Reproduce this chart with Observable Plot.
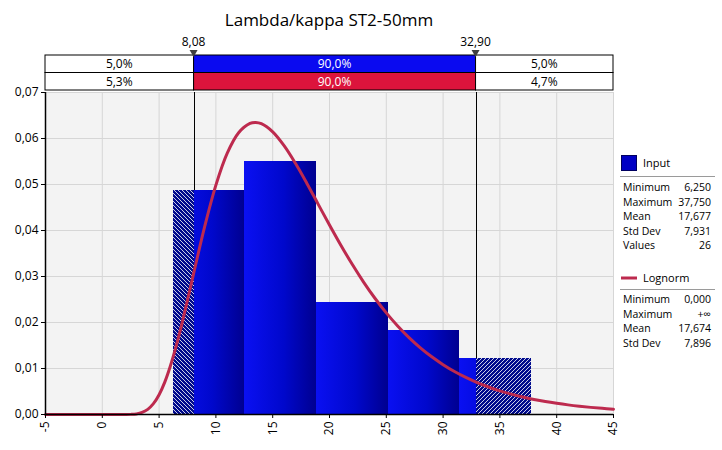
<!DOCTYPE html>
<html>
<head>
<meta charset="utf-8">
<script src="https://cdn.jsdelivr.net/npm/d3@7"></script>
<script src="https://cdn.jsdelivr.net/npm/@observablehq/plot@0.6"></script>
<style>
  html, body { margin: 0; padding: 0; background: #ffffff; }
  #chart svg { display: block; }
</style>
</head>
<body>
<div id="chart"></div>
<script>
// ---------- data ----------
const title = "Lambda/kappa ST2-50mm";
const xTicks = [-5, 0, 5, 10, 15, 20, 25, 30, 35, 40, 45];
const yTicks = [0, 0.01, 0.02, 0.03, 0.04, 0.05, 0.06, 0.07];
const binEdges = [6.25, 12.55, 18.85, 25.15, 31.45, 37.75];
const binDensity = [0.0488, 0.0549, 0.0244, 0.0183, 0.0122];
const thresholds = [8.08, 32.90];
const thresholdLabels = ["8,08", "32,90"];
const inputPct = ["5,0%", "90,0%", "5,0%"];
const fitPct = ["5,3%", "90,0%", "4,7%"];
const curveX = [-5, -4, -3, -2, -1, 0, 1, 2, 2.5, 3, 3.5, 4, 4.5, 5, 5.5, 6, 6.5, 7, 7.5, 8, 9, 10, 11, 12, 13, 13.5, 14, 15,
  16, 17, 18, 19, 20, 21, 22, 23, 24, 25, 26, 27, 28, 29, 30, 31, 32, 33, 34, 35,
  36, 37, 38, 39, 40, 41, 42, 43, 44, 45];
const curveY = [0, 0, 0, 0, 0, 0, 0, 0.000003, 0.000027, 0.00013, 0.00044, 0.00112, 0.00236, 0.00431, 0.00705, 0.0106, 0.01485, 0.01967, 0.02486, 0.03024, 0.04073, 0.04986, 0.05681, 0.06125, 0.06328, 0.06348, 0.06321, 0.06144,
  0.05844, 0.0546, 0.05028, 0.04574, 0.0412, 0.0368, 0.03265, 0.02879, 0.02527, 0.02209, 0.01925, 0.01672, 0.0145, 0.01254, 0.01084, 0.00935, 0.00806, 0.00694, 0.00598, 0.00515,
  0.00443, 0.00381, 0.00328, 0.00282, 0.00243, 0.00209, 0.0018, 0.00155, 0.00134, 0.00116];
const inputName = "Input";
const inputStatLabels = ["Minimum", "Maximum", "Mean", "Std Dev", "Values"];
const inputStatValues = ["6,250", "37,750", "17,677", "7,931", "26"];
const fitName = "Lognorm";
const fitStatLabels = ["Minimum", "Maximum", "Mean", "Std Dev"];
const fitStatValues = ["0,000", "+∞", "17,674", "7,896"];

// ---------- derived tables ----------
const bins = binDensity.map((d, i) => ({x1: binEdges[i], x2: binEdges[i + 1], y: d}));
const [lo, hi] = thresholds;
const hatchLeft = bins.filter(b => b.x1 < lo).map(b => ({x1: b.x1, x2: Math.min(b.x2, lo), y: b.y}));
const hatchRight = bins.filter(b => b.x2 > hi).map(b => ({x1: Math.max(b.x1, hi), x2: b.x2, y: b.y}));
const curve = curveX.map((x, i) => ({x, y: curveY[i]}));

const FONT = "'Open Sans', 'Noto Sans', sans-serif";
const comma = d => d3.format(".2f")(d).replace(".", ",");

const defs = () => {
  const g = d3.create("svg:defs");
  const grad = g.append("linearGradient").attr("id", "barGrad").attr("x1", 0).attr("x2", 1).attr("y1", 0).attr("y2", 0);
  grad.append("stop").attr("offset", "0%").attr("stop-color", "#0a10f2");
  grad.append("stop").attr("offset", "55%").attr("stop-color", "#0008cc");
  grad.append("stop").attr("offset", "100%").attr("stop-color", "#000090");
  const mk = (id, paths) => {
    const p = g.append("pattern").attr("id", id).attr("patternUnits", "userSpaceOnUse").attr("width", 4).attr("height", 4);
    p.append("rect").attr("width", 4).attr("height", 4).attr("fill", "#000a8c");
    p.append("path").attr("d", paths).attr("stroke", "#ffffff").attr("stroke-width", 0.8).attr("fill", "none");
  };
  mk("hatchL", "M0,0L4,4M-1,3L1,5M3,-1L5,1");
  mk("hatchR", "M0,4L4,0M-1,1L1,-1M3,5L5,3");
  return g.node();
};

const plot = Plot.plot({
  width: 722,
  height: 450,
  marginLeft: 45,
  marginRight: 109,
  marginTop: 92,
  marginBottom: 36,
  style: {fontFamily: FONT, fontSize: "12px", color: "#000", background: "#fff", overflow: "visible"},
  x: {domain: [-5, 45]},
  y: {domain: [0, 0.07]},
  marks: [
    defs,
    Plot.frame({fill: "#f3f3f3", stroke: null}),
    Plot.gridX(xTicks, {stroke: "#d6d6d6", strokeOpacity: 1}),
    Plot.gridY(yTicks, {stroke: "#d6d6d6", strokeOpacity: 1}),
    Plot.ruleX(thresholds, {y1: 0, y2: 0.07, stroke: "#000", strokeWidth: 1, shapeRendering: "crispEdges"}),
    Plot.rectY(bins, {x1: "x1", x2: "x2", y: "y", fill: "url(#barGrad)", inset: 0, shapeRendering: "crispEdges"}),
    Plot.rectY(hatchLeft, {x1: "x1", x2: "x2", y: "y", fill: "url(#hatchL)", inset: 0, shapeRendering: "crispEdges"}),
    Plot.rectY(hatchRight, {x1: "x1", x2: "x2", y: "y", fill: "url(#hatchR)", inset: 0, shapeRendering: "crispEdges"}),
    Plot.line(curve, {x: "x", y: "y", stroke: "#bd2a4e", strokeWidth: 3, curve: "catmull-rom"}),
    Plot.ruleX([-5], {stroke: "#000", strokeWidth: 1.5}),
    Plot.ruleY([0], {stroke: "#000", strokeWidth: 1.5}),
    Plot.axisY({ticks: yTicks, tickFormat: comma, tickSize: 4, tickPadding: 3, label: null, fontSize: 12}),
    Plot.axisX({ticks: xTicks, tickFormat: d => String(d), tickSize: 4, tickPadding: 3, tickRotate: -90, label: null, fontSize: 12})
  ]
});

document.getElementById("chart").appendChild(plot);

// ---------- overlay: title, threshold bands, legend ----------
const svg = d3.select(plot);
const xs = plot.scale("x");
const X = v => xs.apply(v);
const x0 = X(-5), x1 = X(45);
const tx = thresholds.map(X);

svg.append("text").attr("x", 329).attr("y", 26).attr("text-anchor", "middle")
  .attr("font-family", FONT).attr("font-size", 17).attr("fill", "#000").text(title);

const band = svg.append("g").attr("font-family", FONT).attr("font-size", 12);
const rowTop = [55, 72.5], rowH = 17.5;
const rows = [{pct: inputPct, mid: "#0a0af0"}, {pct: fitPct, mid: "#dc143c"}];
rows.forEach((r, ri) => {
  const edges = [x0, tx[0], tx[1], x1];
  for (let c = 0; c < 3; c++) {
    band.append("rect").attr("x", edges[c]).attr("y", rowTop[ri]).attr("width", edges[c + 1] - edges[c]).attr("height", rowH)
      .attr("fill", c === 1 ? r.mid : "#fff").attr("stroke", "#000").attr("stroke-width", 1);
    band.append("text").attr("x", (edges[c] + edges[c + 1]) / 2).attr("y", rowTop[ri] + rowH / 2 + 4.5)
      .attr("text-anchor", "middle").attr("fill", c === 1 ? "#fff" : "#000").text(r.pct[c]);
  }
});
thresholds.forEach((t, i) => {
  const px = X(t);
  band.append("path").attr("d", `M${px - 4},50L${px + 4},50L${px},57Z`).attr("fill", "#404040");
  band.append("text").attr("x", px).attr("y", 46).attr("text-anchor", "middle").attr("fill", "#000").text(thresholdLabels[i]);
});

const lg = svg.append("g").attr("font-family", FONT).attr("font-size", 10.5).attr("fill", "#000").attr("text-anchor", "start");
lg.append("rect").attr("x", 621.5).attr("y", 155.5).attr("width", 15).attr("height", 15).attr("fill", "#0000c4").attr("stroke", "#000060");
lg.append("text").attr("x", 643).attr("y", 167).attr("font-size", 11).attr("text-anchor", "start").text(inputName);
lg.append("line").attr("x1", 620).attr("x2", 715).attr("y1", 176.5).attr("y2", 176.5).attr("stroke", "#9a9a9a");
inputStatLabels.forEach((l, i) => {
  const y = 191 + i * 14.5;
  lg.append("text").attr("x", 623).attr("y", y).attr("text-anchor", "start").text(l);
  lg.append("text").attr("x", 711).attr("y", y).attr("text-anchor", "end").text(inputStatValues[i]);
});
lg.append("line").attr("x1", 621).attr("x2", 637).attr("y1", 278).attr("y2", 278).attr("stroke", "#bd2a4e").attr("stroke-width", 3);
lg.append("text").attr("x", 643).attr("y", 282).attr("font-size", 11).attr("text-anchor", "start").text(fitName);
lg.append("line").attr("x1", 620).attr("x2", 715).attr("y1", 289.5).attr("y2", 289.5).attr("stroke", "#9a9a9a");
fitStatLabels.forEach((l, i) => {
  const y = 303 + i * 14.5;
  lg.append("text").attr("x", 623).attr("y", y).attr("text-anchor", "start").text(l);
  lg.append("text").attr("x", 711).attr("y", y).attr("text-anchor", "end").text(fitStatValues[i]);
});
</script>
</body>
</html>
